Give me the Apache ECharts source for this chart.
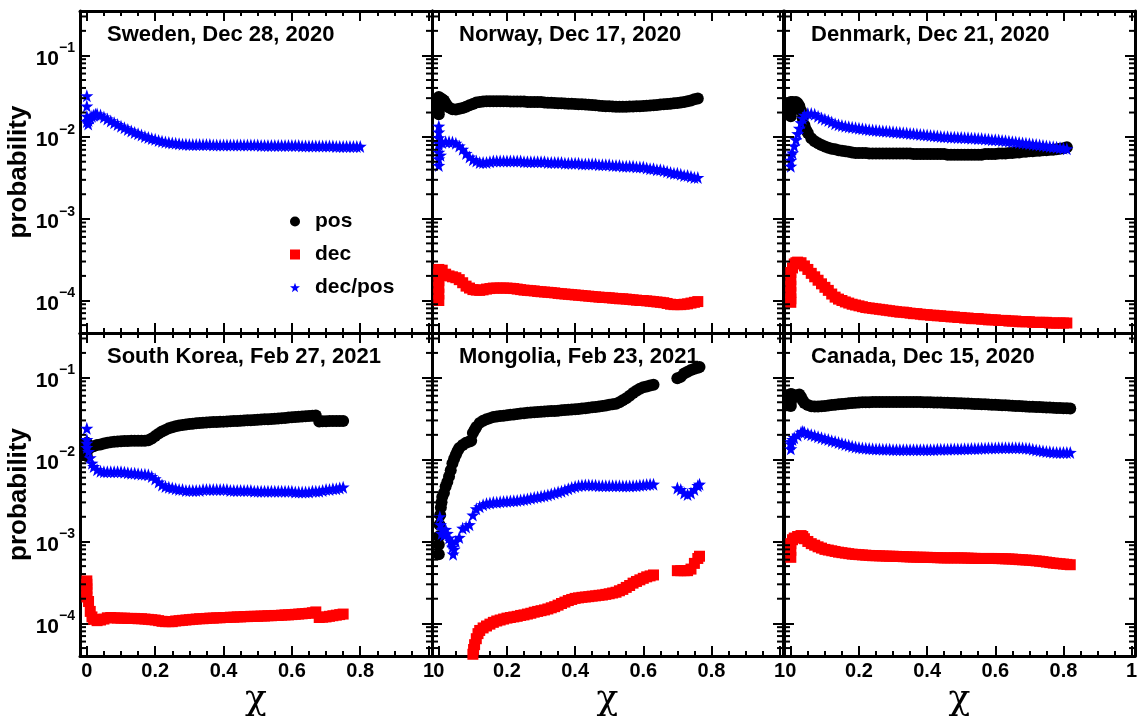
<!DOCTYPE html>
<html><head><meta charset="utf-8">
<script src="https://cdn.jsdelivr.net/npm/echarts@6/dist/echarts.min.js"></script>
<style>html,body{margin:0;padding:0;background:#fff}#c{width:1141px;height:720px}</style>
</head><body><div id="c"></div>
<script>
// shared x grid (chi)
const XG = [0,.01,.02,.03,.04,.05,.06,.07,.08,.09,.10,.11,.12,.13,.14,.15,.16,.17,.18,.19,
.20,.21,.22,.23,.24,.25,.26,.27,.28,.29,.30,.31,.32,.33,.34,.35,.36,.37,.38,.39,
.40,.41,.42,.43,.44,.45,.46,.47,.48,.49,.50,.51,.52,.53,.54,.55,.56,.57,.58,.59,
.60,.61,.62,.63,.64,.65,.66,.67,.68,.69,.70,.71,.72,.73,.74,.75,.76,.77,.78,.79,.80,.81,.82];

const TITLES = ['Sweden, Dec 28, 2020','Norway, Dec 17, 2020','Denmark, Dec 21, 2020',
  'South Korea, Feb 27, 2021','Mongolia, Feb 23, 2021','Canada, Dec 15, 2020'];
const SERIES_NAMES = ['pos','dec','dec/pos'];
const X_TICK_LABELS = [0,0.2,0.4,0.6,0.8,1];
const Y_MINOR = [5e-5,6e-5,7e-5,8e-5,9e-5,2e-4,3e-4,4e-4,5e-4,6e-4,7e-4,8e-4,9e-4,
  2e-3,3e-3,4e-3,5e-3,6e-3,7e-3,8e-3,9e-3,2e-2,3e-2,4e-2,5e-2,6e-2,7e-2,8e-2,9e-2,0.2,0.3];

// ---- Sweden
const SWE_DP_H = [[0,.032],[0,.024],[0,.018],[0.004,.0145],[0.005,.016],[0.015,.018],[0.025,.019]];
const SWE_DP_Y = [.0155,.0172,.0185,.0192,.0186,.0176,.0167,.0158,.0150,.0143,
.0136,.0130,.0124,.0119,.0114,.0110,.0106,.0102,.0099,.0096,
.0094,.0091,.0089,.0087,.0086,.0085,.0084,.0083,.0082,.0082,
.0081,.0081,.0081,.0081,.0081,.0081,.0081,.0080,.0080,.0080,
.0080,.0080,.0080,.0080,.0080,.0080,.0080,.0080,.0080,.0080,
.0080,.0079,.0079,.0079,.0079,.0079,.0079,.0079,.0079,.0079,
.0079,.0079,.0079,.0078,.0078,.0078,.0078,.0078,.0078,.0078,
.0078,.0078,.0078,.0077,.0077,.0077,.0077,.0077,.0077,.0077,.0077];

// ---- Norway
const NOR_POS_H = [[0,.019],[0,.021],[0,.024],[0,.028],[0,.031],[0.005,.03],[0.015,.028],[0.025,.024]];
const NOR_POS_Y = [.026,.029,.026,.023,.022,.0218,.0222,.0228,.0236,.0245,
.0255,.0265,.027,.0273,.0275,.0275,.0275,.0275,.0275,.0275,
.0275,.0273,.0273,.0273,.0273,.0273,.027,.027,.027,.027,
.027,.0265,.0264,.0263,.0262,.026,.0259,.0258,.0257,.0256,
.0255,.0253,.0252,.025,.0249,.0248,.0245,.0243,.0241,.0239,
.0238,.0237,.0236,.0236,.0236,.0236,.0237,.0237,.0238,.0239,
.024,.0242,.0244,.0246,.0248,.025,.0252,.0254,.0256,.0259,
.0262,.0266,.027,.0275,.028,.029,.0297];
const NOR_DEC_H = [[0,1.0e-4],[0,1.2e-4],[0,1.45e-4],[0,1.75e-4],[0,2.1e-4]];
const NOR_DEC_Y = [2.4e-4,2.35e-4,2.1e-4,2.0e-4,1.95e-4,1.9e-4,1.8e-4,1.65e-4,1.5e-4,1.42e-4,
1.36e-4,1.34e-4,1.33e-4,1.35e-4,1.38e-4,1.4e-4,1.42e-4,1.42e-4,1.42e-4,1.42e-4,
1.42e-4,1.41e-4,1.4e-4,1.38e-4,1.36e-4,1.34e-4,1.33e-4,1.32e-4,1.31e-4,1.29e-4,
1.28e-4,1.27e-4,1.26e-4,1.25e-4,1.24e-4,1.22e-4,1.21e-4,1.2e-4,1.19e-4,1.18e-4,
1.17e-4,1.16e-4,1.15e-4,1.14e-4,1.13e-4,1.12e-4,1.11e-4,1.1e-4,1.09e-4,1.09e-4,
1.08e-4,1.07e-4,1.06e-4,1.05e-4,1.05e-4,1.04e-4,1.03e-4,1.02e-4,1.01e-4,1.0e-4,
1.0e-4,9.9e-5,9.8e-5,9.7e-5,9.6e-5,9.5e-5,9.4e-5,9.2e-5,9.0e-5,8.9e-5,
8.9e-5,8.9e-5,9.0e-5,9.1e-5,9.3e-5,9.5e-5,9.7e-5];
const NOR_DP_H = [[0,.0136],[0,.0115],[0,.0098],[0,.008],[0,.0065],[0,.0054],[0,.0045],[0.005,.0088],[0.005,.006]];
const NOR_DP_Y = [.0085,.0086,.0088,.0088,.0087,.0084,.0078,.0071,.0063,.0057,
.0053,.0051,.0049,.0049,.0049,.005,.0051,.0051,.0051,.0051,
.0051,.0051,.0051,.0051,.0051,.005,.005,.005,.005,.005,
.005,.005,.0049,.0049,.0049,.0049,.0049,.0048,.0048,.0048,
.0048,.0048,.0047,.0047,.0047,.0047,.0047,.0046,.0046,.0046,
.0046,.0045,.0045,.0045,.0044,.0044,.0044,.0044,.0043,.0043,
.0043,.0042,.0041,.0041,.004,.004,.0039,.0038,.0037,.0036,
.0036,.0035,.0034,.0034,.0033,.0032,.0032];

// ---- Denmark
const DEN_POS_H = [[0,.018],[0,.02],[0,.024],[0,.027],[0.005,.027],[0.015,.027],[0.025,.024],[0.035,.017],[0.045,.0122]];
const DEN_POS_Y = [.022,.026,.026,.021,.014,.0112,.0097,.0089,.0084,.008,
.0077,.0074,.0072,.0071,.0069,.0068,.0067,.0066,.0065,.0064,
.0064,.0064,.0064,.0063,.0063,.0063,.0063,.0063,.0063,.0063,
.0063,.0063,.0063,.0063,.0063,.0063,.0062,.0062,.0062,.0062,
.0062,.0062,.0062,.0062,.0062,.0062,.0061,.0061,.0061,.0061,
.0061,.0061,.0061,.0061,.0061,.0061,.0061,.0062,.0062,.0062,
.0062,.0063,.0063,.0063,.0064,.0064,.0065,.0065,.0066,.0066,
.0067,.0067,.0068,.0068,.0069,.0069,.007,.007,.0071,.0072,
.0073,.0075];
const DEN_DEC_H = [[0,9.5e-5],[0,1.25e-4],[0,1.5e-4],[0,1.8e-4],[0,2.2e-4],[0.005,2.5e-4],[0.015,2.9e-4]];
const DEN_DEC_Y = [1.05e-4,2.8e-4,2.95e-4,2.9e-4,2.65e-4,2.4e-4,2.15e-4,1.95e-4,1.77e-4,1.6e-4,
1.45e-4,1.33e-4,1.2e-4,1.1e-4,1.04e-4,1.0e-4,9.6e-5,9.3e-5,9.0e-5,8.8e-5,
8.6e-5,8.4e-5,8.2e-5,8.1e-5,8.0e-5,7.9e-5,7.8e-5,7.7e-5,7.6e-5,7.5e-5,
7.4e-5,7.3e-5,7.2e-5,7.2e-5,7.1e-5,7.0e-5,6.9e-5,6.9e-5,6.8e-5,6.7e-5,
6.7e-5,6.6e-5,6.6e-5,6.5e-5,6.5e-5,6.4e-5,6.4e-5,6.3e-5,6.3e-5,6.2e-5,
6.2e-5,6.1e-5,6.1e-5,6.0e-5,6.0e-5,6.0e-5,5.9e-5,5.9e-5,5.8e-5,5.8e-5,
5.8e-5,5.7e-5,5.7e-5,5.7e-5,5.6e-5,5.6e-5,5.6e-5,5.5e-5,5.5e-5,5.5e-5,
5.5e-5,5.4e-5,5.4e-5,5.4e-5,5.4e-5,5.4e-5,5.3e-5,5.3e-5,5.3e-5,5.3e-5,
5.3e-5,5.3e-5];
const DEN_DP_H = [[0,.0052],[0,.006],[0.005,.0064],[0.015,.0093],[0.025,.0128],[0.035,.017]];
const DEN_DP_Y = [.0044,.0078,.011,.015,.0185,.0195,.0194,.019,.018,.0172,
.0166,.016,.0153,.0146,.0142,.0139,.0136,.0134,.0132,.013,
.0128,.0127,.0125,.0123,.0122,.0121,.012,.0119,.0118,.0117,
.0116,.0115,.0114,.0113,.0112,.0111,.011,.0109,.0108,.0107,
.0106,.0105,.0104,.0103,.0102,.0101,.0101,.01,.01,.0099,
.0099,.0098,.0098,.0097,.0097,.0096,.0096,.0095,.0094,.0093,
.0093,.0092,.0091,.009,.0089,.0088,.0087,.0086,.0085,.0084,
.0083,.0082,.0081,.008,.0079,.0078,.0077,.0076,.0075,.0074,
.0073,.0072];

// ---- South Korea
const KOR_POS_H = [[0,.011],[0,.014],[0,.016],[0.005,.0135]];
const KOR_POS_Y = [.0125,.014,.0145,.015,.0153,.0157,.016,.0163,.0165,.0166,
.0167,.0168,.0168,.0169,.0169,.017,.017,.017,.0172,.018,
.0193,.0207,.022,.023,.024,.0248,.0255,.026,.0264,.0268,
.0272,.0274,.0277,.0279,.0281,.0283,.0284,.0286,.0287,.0289,
.029,.0292,.0293,.0295,.0296,.0298,.0299,.0301,.0302,.0304,
.0306,.0308,.0309,.0311,.0313,.0315,.0317,.032,.0322,.0325,
.0328,.033,.0332,.0335,.0337,.034,.0342,.0345,.0292,.0293,
.0294,.0295,.0295,.0295,.0295,.0296];
const KOR_DEC_H = [[0,3.3e-4],[0,3.0e-4],[0,2.65e-4],[0,2.4e-4],[0.005,1.85e-4],[0.015,1.2e-4]];
const KOR_DEC_Y = [2.1e-4,1.4e-4,1.12e-4,1.08e-4,1.1e-4,1.13e-4,1.17e-4,1.18e-4,1.17e-4,1.16e-4,
1.16e-4,1.16e-4,1.15e-4,1.15e-4,1.15e-4,1.14e-4,1.14e-4,1.13e-4,1.12e-4,1.11e-4,
1.1e-4,1.08e-4,1.06e-4,1.05e-4,1.05e-4,1.05e-4,1.07e-4,1.08e-4,1.09e-4,1.1e-4,
1.11e-4,1.12e-4,1.13e-4,1.14e-4,1.14e-4,1.15e-4,1.16e-4,1.16e-4,1.17e-4,1.17e-4,
1.18e-4,1.18e-4,1.19e-4,1.19e-4,1.2e-4,1.2e-4,1.21e-4,1.21e-4,1.22e-4,1.22e-4,
1.22e-4,1.23e-4,1.23e-4,1.24e-4,1.24e-4,1.25e-4,1.25e-4,1.26e-4,1.27e-4,1.27e-4,
1.28e-4,1.29e-4,1.3e-4,1.31e-4,1.32e-4,1.33e-4,1.35e-4,1.38e-4,1.18e-4,1.19e-4,
1.2e-4,1.22e-4,1.24e-4,1.26e-4,1.28e-4,1.3e-4];
const KOR_DP_H = [[0,.024],[0,.0175],[0,.014],[0.005,.0125],[0.015,.009]];
const KOR_DP_Y = [.0158,.0105,.0082,.0075,.0072,.0071,.0071,.0071,.0071,.0071,
.0071,.007,.0069,.0068,.0068,.0067,.0066,.0066,.0065,.0062,
.0058,.0053,.0049,.0047,.0046,.0045,.0044,.0043,.0043,.0042,
.0042,.0042,.0042,.0042,.0043,.0043,.0043,.0043,.0043,.0043,
.0043,.0043,.0042,.0042,.0042,.0042,.0042,.0042,.0042,.0041,
.0041,.0041,.0041,.0041,.0041,.0041,.0041,.0041,.0041,.0041,
.0041,.004,.004,.004,.004,.004,.0041,.0041,.0041,.0042,
.0043,.0043,.0044,.0044,.0045,.0046];

// ---- Mongolia
const MON_POS_H = [[0,9.1e-4],[0,7.0e-4],[0.002,1.6e-3],[0.004,2.1e-3],[0.006,2.6e-3],[0.008,3.0e-3],
  [0.015,3.9e-3],[0.025,5.3e-3],[0.035,7.4e-3],[0.045,.0102],[0.055,.0127],[0.095,.017],[0.105,.023],[0.765,.135]];
const MON_POS_Y = [1.15e-3,3.5e-3,4.7e-3,6.2e-3,9.0e-3,.0114,.0138,.015,.016,.0166,
.021,.025,.028,.0298,.031,.032,.033,.0335,.034,.0343,
.0347,.0351,.0355,.036,.0365,.0368,.0372,.0375,.0378,.038,
.0383,.0386,.0388,.039,.0392,.0395,.0398,.0401,.0404,.0407,
.041,.0414,.0418,.0423,.0428,.0433,.0438,.0444,.045,.0457,
.0465,.0472,.048,.05,.053,.056,.06,.065,.069,.073,
.076,.078,.08,.082,null,null,null,null,null,null,
.098,.102,.112,.118,.124,.128,.132];
const MON_DEC_H = [[0.098,3.5e-5],[0.1,3.8e-5],[0.102,4.8e-5],[0.105,5.5e-5],[0.115,7.5e-5],[0.765,6.6e-4]];
const MON_DEC_Y = [null,null,null,null,null,null,null,null,null,null,
4.2e-5,6.5e-5,8.2e-5,8.8e-5,9.3e-5,9.8e-5,1.03e-4,1.07e-4,1.1e-4,1.13e-4,
1.16e-4,1.18e-4,1.2e-4,1.22e-4,1.25e-4,1.27e-4,1.3e-4,1.33e-4,1.37e-4,1.4e-4,
1.43e-4,1.46e-4,1.5e-4,1.55e-4,1.6e-4,1.67e-4,1.75e-4,1.82e-4,1.9e-4,1.96e-4,
2.02e-4,2.05e-4,2.08e-4,2.1e-4,2.12e-4,2.15e-4,2.17e-4,2.2e-4,2.22e-4,2.26e-4,
2.3e-4,2.35e-4,2.4e-4,2.5e-4,2.6e-4,2.75e-4,2.9e-4,3.1e-4,3.25e-4,3.4e-4,
3.55e-4,3.7e-4,3.8e-4,3.9e-4,null,null,null,null,null,null,
4.4e-4,4.4e-4,4.4e-4,4.4e-4,4.6e-4,5.4e-4,6.2e-4];
const MON_DP_H = [[0.003,2.0e-3],[0.005,1.6e-3],[0.008,1.25e-3],[0.015,1.2e-3],[0.025,1.25e-3],[0.035,1.0e-3],
  [0.04,8.5e-4],[0.042,7.0e-4],[0.045,8.0e-4],[0.765,5.0e-3]];
const MON_DP_Y = [null,1.4e-3,1.4e-3,1.1e-3,9.5e-4,1.0e-3,1.12e-3,1.45e-3,1.5e-3,1.6e-3,
2.1e-3,2.5e-3,2.65e-3,2.8e-3,2.9e-3,2.95e-3,3.0e-3,3.0e-3,3.05e-3,3.08e-3,
3.1e-3,3.12e-3,3.15e-3,3.17e-3,3.2e-3,3.25e-3,3.3e-3,3.37e-3,3.45e-3,3.5e-3,
3.55e-3,3.62e-3,3.7e-3,3.8e-3,3.9e-3,4.0e-3,4.1e-3,4.25e-3,4.4e-3,4.55e-3,
4.7e-3,4.8e-3,4.85e-3,4.9e-3,4.9e-3,4.85e-3,4.85e-3,4.8e-3,4.8e-3,4.8e-3,
4.8e-3,4.8e-3,4.8e-3,4.78e-3,4.75e-3,4.75e-3,4.75e-3,4.78e-3,4.8e-3,4.85e-3,
4.9e-3,4.95e-3,5.0e-3,5.0e-3,null,null,null,null,null,null,
4.5e-3,4.3e-3,3.9e-3,3.75e-3,3.9e-3,4.3e-3,4.8e-3];

// ---- Canada
const CAN_POS_H = [[0,.045],[0,.05],[0,.063],[0.005,.062],[0.015,.059],[0.025,.062],[0.035,.053]];
const CAN_POS_Y = [.057,.06,.061,.058,.049,.0462,.0448,.0443,.0443,.0447,
.045,.0456,.0462,.0467,.0472,.0476,.048,.0485,.049,.0494,
.0497,.0499,.05,.0501,.0502,.0503,.0504,.0504,.0505,.0505,
.0505,.0505,.0505,.0505,.0504,.0504,.0503,.0503,.0502,.0501,
.05,.0499,.0498,.0496,.0495,.0493,.0492,.049,.0489,.0487,
.0485,.0483,.0481,.0479,.0477,.0475,.0473,.0471,.0469,.0467,
.0465,.0463,.046,.0458,.0455,.0453,.0451,.0449,.0447,.0444,
.0442,.044,.0438,.0436,.0434,.0432,.043,.0428,.0426,.0424,
.0423,.0422,.042];
const CAN_DEC_H = [[0,6.4e-4],[0,7.8e-4],[0.005,1.05e-3],[0.035,1.15e-3]];
const CAN_DEC_Y = [9.4e-4,1.1e-3,1.15e-3,1.18e-3,1.08e-3,1.0e-3,9.4e-4,9.0e-4,8.6e-4,8.3e-4,
8.0e-4,7.85e-4,7.7e-4,7.55e-4,7.4e-4,7.3e-4,7.2e-4,7.1e-4,7.0e-4,6.95e-4,
6.9e-4,6.85e-4,6.8e-4,6.75e-4,6.7e-4,6.7e-4,6.68e-4,6.65e-4,6.62e-4,6.6e-4,
6.6e-4,6.57e-4,6.55e-4,6.52e-4,6.5e-4,6.47e-4,6.45e-4,6.43e-4,6.42e-4,6.41e-4,
6.4e-4,6.38e-4,6.36e-4,6.34e-4,6.32e-4,6.3e-4,6.3e-4,6.3e-4,6.3e-4,6.3e-4,
6.3e-4,6.28e-4,6.26e-4,6.24e-4,6.22e-4,6.2e-4,6.2e-4,6.2e-4,6.2e-4,6.2e-4,
6.2e-4,6.18e-4,6.16e-4,6.14e-4,6.12e-4,6.1e-4,6.05e-4,6.0e-4,5.97e-4,5.94e-4,
5.9e-4,5.85e-4,5.8e-4,5.74e-4,5.68e-4,5.6e-4,5.52e-4,5.45e-4,5.4e-4,5.35e-4,
5.3e-4,5.25e-4,5.2e-4];
const CAN_DP_H = [[0,.0135],[0,.0165],[0.005,.0175],[0.035,.022]];
const CAN_DP_Y = [.0155,.0185,.0198,.0215,.0215,.0207,.0201,.0196,.019,.0185,
.0179,.0175,.017,.0166,.0161,.0157,.0153,.0149,.0145,.0142,
.014,.0138,.0137,.0136,.0135,.0134,.0134,.0133,.0133,.0133,
.0132,.0132,.0132,.0132,.0132,.0132,.0132,.0132,.0132,.0132,
.0132,.0132,.0132,.0133,.0133,.0133,.0133,.0134,.0134,.0134,
.0134,.0135,.0135,.0136,.0136,.0136,.0137,.0137,.0138,.0138,
.0138,.0139,.0139,.0139,.0139,.0139,.0139,.0139,.0138,.0137,
.0136,.0133,.0131,.0129,.0127,.0125,.0124,.0123,.0122,.0122,
.0122,.0122,.0122];

function build(ys, heads) {
  if (!ys) return null;
  const out = heads.slice();
  ys.forEach((y, i) => { if (y != null) out.push([XG[i], y]); });
  return out;
}
const PANELS = [
  {pos: null, dec: null, dp: build(SWE_DP_Y, SWE_DP_H)},
  {pos: build(NOR_POS_Y, NOR_POS_H), dec: build(NOR_DEC_Y, NOR_DEC_H), dp: build(NOR_DP_Y, NOR_DP_H)},
  {pos: build(DEN_POS_Y, DEN_POS_H), dec: build(DEN_DEC_Y, DEN_DEC_H), dp: build(DEN_DP_Y, DEN_DP_H)},
  {pos: build(KOR_POS_Y, KOR_POS_H), dec: build(KOR_DEC_Y, KOR_DEC_H), dp: build(KOR_DP_Y, KOR_DP_H)},
  {pos: build(MON_POS_Y, MON_POS_H), dec: build(MON_DEC_Y, MON_DEC_H), dp: build(MON_DP_Y, MON_DP_H)},
  {pos: build(CAN_POS_Y, CAN_POS_H), dec: build(CAN_DEC_Y, CAN_DEC_H), dp: build(CAN_DP_Y, CAN_DP_H)}
];

const FONT = 'Liberation Sans';
const STAR = 'path://M50 0L61.8 33.8L97.6 34.5L69 56.2L79.4 90.5L50 70L20.6 90.5L31 56.2L2.4 34.5L38.2 33.8Z';
const COL_LEFT = [80, 432, 784], COL_W = [352, 351, 351];
const ROW_TOP = [11, 333], ROW_H = [322, 323];
const XMIN = -0.02, XMAX = 1.01, YMIN = 4e-5, YMAX = 0.35;

const grids = [], xAxes = [], yAxes = [], series = [], titles = [];
function xFmt(v) {
  for (const t of X_TICK_LABELS) if (Math.abs(v - t) < 1e-6) return String(t);
  return '';
}
function yFmt(v) {
  const e = Math.log10(v), r = Math.round(e);
  if (Math.abs(e - r) > 1e-6) return '';
  return '{b|10}{s|' + (r < 0 ? '\u2212' : '') + Math.abs(r) + '}';
}
const lineSt = {color: '#000', width: 3};
const tickSt = {color: '#000', width: 2};
for (let g = 0; g < 6; g++) {
  const row = Math.floor(g / 3), col = g % 3;
  grids.push({left: COL_LEFT[col], top: ROW_TOP[row], width: COL_W[col], height: ROW_H[row]});
  const baseX = {type: 'value', gridIndex: g, min: XMIN, max: XMAX,
    axisLine: {show: true, onZero: false, lineStyle: lineSt},
    axisTick: {show: true, inside: true, length: 10, lineStyle: tickSt},
    minorTick: {show: true, splitNumber: 4, length: 5, lineStyle: tickSt},
    splitLine: {show: false}};
  xAxes.push(Object.assign({}, baseX, {position: 'bottom',
    axisLabel: {show: row === 1, formatter: xFmt, margin: 5, color: '#000', fontSize: 20, fontWeight: 'bold', fontFamily: FONT},
    name: row === 1 ? '\u03c7' : '', nameLocation: 'middle', nameGap: 20,
    nameTextStyle: {fontSize: 36, fontFamily: 'DejaVu Serif', color: '#000'}}));
  xAxes.push(Object.assign({}, baseX, {position: 'top', axisLabel: {show: false}}));
  const baseY = {type: 'log', logBase: 10, gridIndex: g, min: YMIN, max: YMAX,
    axisLine: {show: true, onZero: false, lineStyle: lineSt},
    axisTick: {show: true, inside: true, length: 10, lineStyle: tickSt},
    minorTick: {show: false}, splitLine: {show: false}};
  yAxes.push(Object.assign({}, baseY, {position: 'left',
    axisLabel: {show: col === 0, formatter: yFmt, margin: 5,
      rich: {b: {fontSize: 21, fontWeight: 'bold', fontFamily: FONT, color: '#000', lineHeight: 28, verticalAlign: 'bottom'},
             s: {fontSize: 14, fontWeight: 'bold', fontFamily: FONT, color: '#000', lineHeight: 14, verticalAlign: 'top'}}},
    name: col === 0 ? 'probability' : '', nameLocation: 'middle', nameGap: 41, nameRotate: 90,
    nameTextStyle: {fontSize: 26, fontWeight: 'bold', fontFamily: FONT, color: '#000'}}));
  yAxes.push(Object.assign({}, baseY, {position: 'right', axisLabel: {show: false}}));

  titles.push({text: TITLES[g], left: COL_LEFT[col] + 27, top: ROW_TOP[row] + 13, padding: 0,
    textStyle: {fontSize: 22, fontWeight: 'bold', fontFamily: FONT, color: '#000'}});

  // log minor ticks on left and right frame edges
  series.push({type: 'custom', name: 'minor', xAxisIndex: 2 * g, yAxisIndex: 2 * g, silent: true, clip: false, z: 5,
    data: Y_MINOR.map(v => [0, v]),
    renderItem: function (params, api) {
      const y = api.coord([0, api.value(1)])[1];
      const cs = params.coordSys;
      if (y < cs.y - 0.5 || y > cs.y + cs.height + 0.5) return null;
      return {type: 'group', children: [
        {type: 'line', shape: {x1: cs.x, y1: y, x2: cs.x + 6, y2: y}, style: {stroke: '#000', lineWidth: 2}},
        {type: 'line', shape: {x1: cs.x + cs.width - 6, y1: y, x2: cs.x + cs.width, y2: y}, style: {stroke: '#000', lineWidth: 2}}]};
    }});
  const P = PANELS[g];
  if (P.pos) series.push({type: 'scatter', name: 'pos', xAxisIndex: 2 * g, yAxisIndex: 2 * g, symbol: 'circle', symbolSize: 12,
    itemStyle: {color: '#000000', opacity: 1}, data: P.pos, z: 2});
  if (P.dec) series.push({type: 'scatter', name: 'dec', xAxisIndex: 2 * g, yAxisIndex: 2 * g, symbol: 'rect', symbolSize: 11,
    itemStyle: {color: '#ff0000', opacity: 1}, data: P.dec, z: 2});
  if (P.dp) series.push({type: 'scatter', name: 'dec/pos', xAxisIndex: 2 * g, yAxisIndex: 2 * g, symbol: STAR, symbolSize: 13,
    itemStyle: {color: '#0000ff', opacity: 1}, data: P.dp, z: 3});
}

const chart = echarts.init(document.getElementById('c'), null, {renderer: 'canvas'});
chart.setOption({
  backgroundColor: '#ffffff',
  animation: false,
  title: titles,
  legend: {orient: 'vertical', left: 285, top: 206, itemWidth: 10, itemHeight: 10, itemGap: 12, selectedMode: false,
    itemStyle: {opacity: 1},
    data: [{name: 'pos', icon: 'circle'}, {name: 'dec', icon: 'rect'}, {name: 'dec/pos', icon: STAR}],
    textStyle: {fontSize: 21, fontWeight: 'bold', fontFamily: FONT, color: '#000', padding: [0, 0, 0, 10]}},
  grid: grids, xAxis: xAxes, yAxis: yAxes, series: series
});
</script></body></html>
